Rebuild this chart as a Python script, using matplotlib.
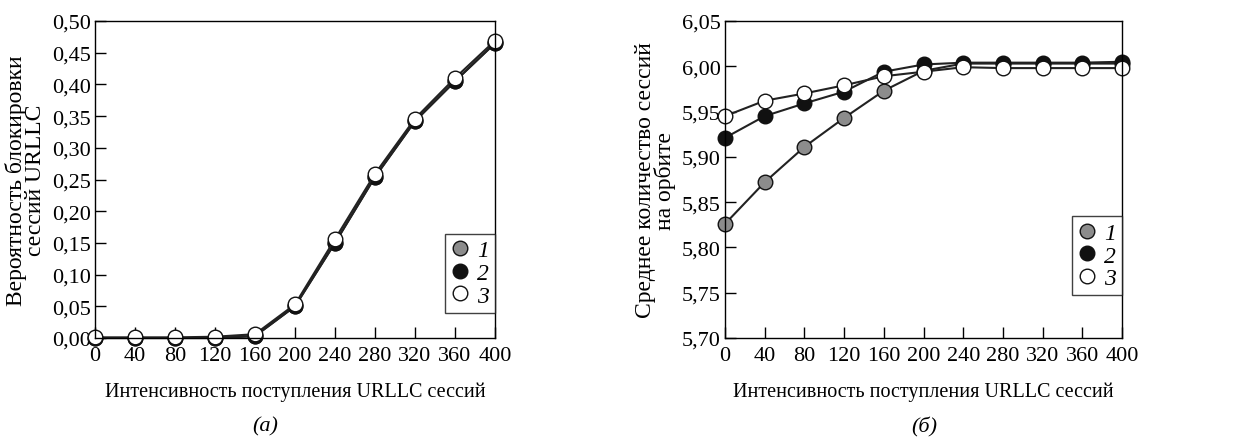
import numpy as np
import matplotlib.pyplot as plt
from matplotlib.ticker import FuncFormatter

plt.rcParams["font.family"] = ["Liberation Serif", "DejaVu Serif"]
plt.rcParams["font.size"] = 15

# Intensity of URLLC session arrivals
x = [0, 40, 80, 120, 160, 200, 240, 280, 320, 360, 400]

# (a) blocking probability of URLLC sessions
block_1 = [0.000, 0.000, 0.000, 0.000, 0.003, 0.050, 0.150, 0.254, 0.342, 0.405, 0.465]
block_2 = [0.000, 0.000, 0.000, 0.000, 0.003, 0.050, 0.150, 0.254, 0.342, 0.405, 0.465]
block_3 = [0.001, 0.001, 0.001, 0.002, 0.006, 0.053, 0.156, 0.259, 0.346, 0.410, 0.469]

# (б) mean number of sessions in orbit
orbit_1 = [5.826, 5.872, 5.911, 5.943, 5.973, 5.995, 6.003, 6.003, 6.003, 6.003, 6.003]
orbit_2 = [5.921, 5.945, 5.959, 5.972, 5.994, 6.002, 6.004, 6.004, 6.004, 6.004, 6.005]
orbit_3 = [5.945, 5.962, 5.970, 5.979, 5.989, 5.994, 5.999, 5.998, 5.998, 5.998, 5.998]

labels = ["1", "2", "3"]
face_colors = ["#8c8c8c", "#111111", "#ffffff"]


def comma(v, pos):
    return f"{v:.2f}".replace(".", ",")


def draw_panel(ax, series, ylim, yticks, ylabel, leg_y):
    for ys, fc, lab in zip(series, face_colors, labels):
        ax.plot(x, ys, color="#222222", lw=1.5, marker="o", ms=10.5,
                mfc=fc, mec="#111111", mew=1.0, label=lab, clip_on=False)
    ax.set_xlim(0, 400)
    ax.set_ylim(*ylim)
    ax.set_xticks(x)
    ax.set_yticks(yticks)
    ax.yaxis.set_major_formatter(FuncFormatter(comma))
    ax.tick_params(direction="in", length=8, width=1.0, top=False, right=False,
                   labelsize=16)
    ax.tick_params(axis="x", pad=6)
    ax.tick_params(axis="y", pad=3)
    for sp in ax.spines.values():
        sp.set_linewidth(1.0)
    ax.set_xlabel("Интенсивность поступления URLLC сессий", fontsize=14.5, labelpad=12)
    ax.set_ylabel(ylabel, fontsize=17, labelpad=4, linespacing=0.9)
    leg = ax.legend(loc="lower right", bbox_to_anchor=(1.0, leg_y), frameon=True,
                    fancybox=False, edgecolor="#111111", handlelength=0.7,
                    handletextpad=0.4, borderpad=0.25, labelspacing=0.05,
                    borderaxespad=0.0, prop={"style": "italic", "size": 17})
    for line in leg.get_lines():
        line.set_linestyle("none")
    leg.get_frame().set_linewidth(1.0)


fig = plt.figure(figsize=(12.46, 4.39), dpi=100)
ax1 = fig.add_axes([95 / 1246, 100 / 439, 400 / 1246, 317 / 439])
ax2 = fig.add_axes([725 / 1246, 100 / 439, 397 / 1246, 317 / 439])

draw_panel(ax1, [block_1, block_2, block_3], (0, 0.5),
           np.arange(0, 0.501, 0.05), "Вероятность блокировки\nсессий URLLC", 0.08)
draw_panel(ax2, [orbit_1, orbit_2, orbit_3], (5.70, 6.05),
           np.arange(5.70, 6.051, 0.05), "Среднее количество сессий\nна орбите", 0.135)

fig.text(265 / 1246, 1 - 427 / 439, "(а)", ha="center", va="center",
         fontsize=16, style="italic")
fig.text(924 / 1246, 1 - 427 / 439, "(б)", ha="center", va="center",
         fontsize=16, style="italic")

fig.savefig("out.png", dpi=100)
